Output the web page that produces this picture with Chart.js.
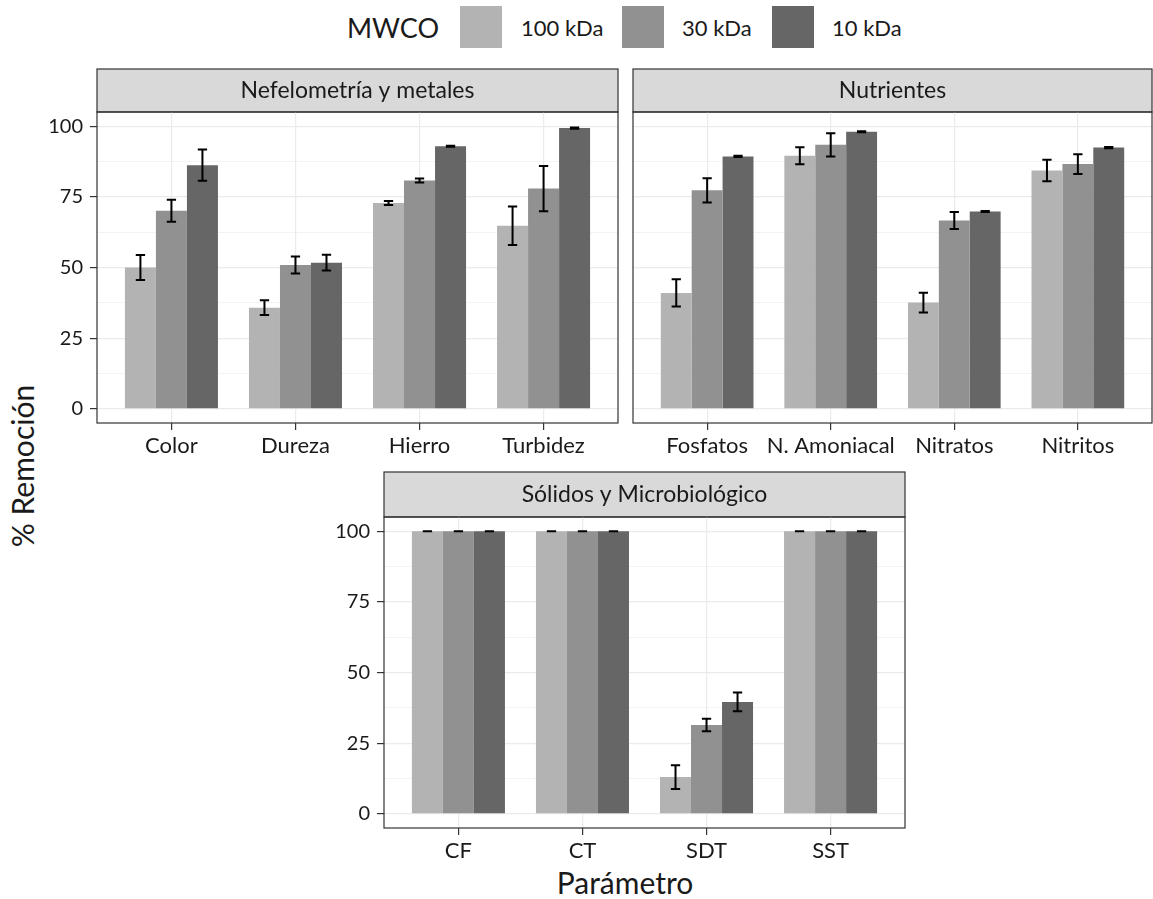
<!DOCTYPE html>
<html lang="es">
<head>
<meta charset="utf-8">
<title>% Remoción por parámetro</title>
<script src="https://cdn.jsdelivr.net/npm/chart.js@4.4.0/dist/chart.umd.min.js"></script>
<style>
  body { margin: 0; background: #fff; width: 1153px; height: 899px; position: relative; overflow: hidden; font-family: Lato, sans-serif; color: #1a1a1a; }
  canvas { position: absolute; }
  .txt { position: absolute; white-space: nowrap; line-height: 1; }
  .caja { position: absolute; width: 42px; height: 42px; top: 6px; }
</style>
</head>
<body>
<div class="txt" style="left:347px;top:14px;font-size:27px">MWCO</div>
<div class="caja" id="caja0" style="left:460px"></div>
<div class="txt" id="ley0" style="left:521px;top:17px;font-size:22px"></div>
<div class="caja" id="caja1" style="left:622px"></div>
<div class="txt" id="ley1" style="left:682px;top:17px;font-size:22px"></div>
<div class="caja" id="caja2" style="left:772px"></div>
<div class="txt" id="ley2" style="left:832px;top:17px;font-size:22px"></div>

<div class="txt" style="left:-78px;top:451px;font-size:30px;transform:rotate(-90deg);width:200px;text-align:center">% Remoción</div>
<div class="txt" style="left:525px;top:867px;font-size:30px;width:200px;text-align:center">Parámetro</div>

<canvas id="panel1" width="622" height="400" style="left:0;top:60px"></canvas>
<canvas id="panel2" width="524" height="400" style="left:629px;top:60px"></canvas>
<canvas id="panel3" width="624" height="410" style="left:284px;top:460px"></canvas>

<script>
// Series (MWCO) y colores
const series = ['100 kDa', '30 kDa', '10 kDa'];
const colores = ['#b3b3b3', '#919191', '#666666'];
const yTicks = [0, 25, 50, 75, 100];
const yMinor = [12.5, 37.5, 62.5, 87.5];

// Nefelometría y metales
const catNef = ['Color', 'Dureza', 'Hierro', 'Turbidez'];
const nef100 = [50.0, 35.8, 72.8, 64.8];
const nef30 = [70.1, 50.9, 80.8, 77.9];
const nef10 = [86.2, 51.7, 92.9, 99.3];
const nefErr100 = [4.4, 2.6, 0.7, 6.8];
const nefErr30 = [3.9, 3.0, 0.7, 8.0];
const nefErr10 = [5.5, 2.8, 0.2, 0.2];

// Nutrientes
const catNut = ['Fosfatos', 'N. Amoniacal', 'Nitratos', 'Nitritos'];
const nut100 = [41.0, 89.5, 37.6, 84.3];
const nut30 = [77.3, 93.4, 66.6, 86.6];
const nut10 = [89.3, 98.0, 69.8, 92.4];
const nutErr100 = [4.8, 3.0, 3.5, 3.8];
const nutErr30 = [4.3, 4.1, 3.0, 3.5];
const nutErr10 = [0.2, 0.2, 0.2, 0.2];

// Sólidos y Microbiológico
const catSol = ['CF', 'CT', 'SDT', 'SST'];
const sol100 = [100, 100, 13.0, 100];
const sol30 = [100, 100, 31.4, 100];
const sol10 = [100, 100, 39.6, 100];
const solErr100 = [0, 0, 4.2, 0];
const solErr30 = [0, 0, 2.2, 0];
const solErr10 = [0, 0, 3.3, 0];

// leyenda en HTML
series.forEach((s, i) => {
    document.getElementById('caja' + i).style.background = colores[i];
    document.getElementById('ley' + i).textContent = s;
});

const FUENTE = 'Lato';

// Franja gris con el título de la faceta + borde del panel
const pluginFaceta = {
    id: 'faceta',
    beforeDraw(chart, args, opts) {
        const a = chart.chartArea;
        const ctx = chart.ctx;
        ctx.save();
        ctx.fillStyle = '#d9d9d9';
        ctx.fillRect(a.left, a.top - opts.alto, a.right - a.left, opts.alto);
        ctx.strokeStyle = '#333333';
        ctx.lineWidth = 1.2;
        ctx.strokeRect(a.left, a.top - opts.alto, a.right - a.left, opts.alto);
        ctx.fillStyle = '#1a1a1a';
        ctx.font = '23px ' + FUENTE;
        ctx.textAlign = 'center';
        ctx.textBaseline = 'middle';
        ctx.fillText(opts.titulo, (a.left + a.right) / 2, a.top - opts.alto / 2);
        ctx.restore();
    },
    afterDraw(chart) {
        const a = chart.chartArea;
        const ctx = chart.ctx;
        ctx.save();
        ctx.strokeStyle = '#333333';
        ctx.lineWidth = 1.2;
        ctx.strokeRect(a.left, a.top, a.right - a.left, a.bottom - a.top);
        ctx.restore();
    }
};

// Barras de error
const pluginErrores = {
    id: 'errores',
    afterDatasetsDraw(chart) {
        const ctx = chart.ctx;
        const yScale = chart.scales.y;
        ctx.save();
        ctx.strokeStyle = '#000';
        ctx.lineWidth = 2;
        chart.data.datasets.forEach((ds, d) => {
            const meta = chart.getDatasetMeta(d);
            meta.data.forEach((bar, i) => {
                const v = ds.data[i].y;
                const e = ds.errores[i];
                const y1 = yScale.getPixelForValue(v + e);
                const y2 = yScale.getPixelForValue(v - e);
                const w = bar.width * 0.15;
                ctx.beginPath();
                ctx.moveTo(bar.x, y1);
                ctx.lineTo(bar.x, y2);
                ctx.moveTo(bar.x - w, y1);
                ctx.lineTo(bar.x + w, y1);
                ctx.moveTo(bar.x - w, y2);
                ctx.lineTo(bar.x + w, y2);
                ctx.stroke();
            });
        });
        ctx.restore();
    }
};

function crearPanel(id, titulo, cats, valores, errores, conEjeY, ancho, alto, pad) {
    const ctx = document.getElementById(id).getContext('2d');
    const datasets = valores.map((vals, s) => ({
        label: series[s],
        data: vals.map((v, i) => ({ x: i + 1, y: v })),
        errores: errores[s],
        backgroundColor: colores[s],
        borderWidth: 0,
        categoryPercentage: 0.75,
        barPercentage: 1.0
    }));

    return new Chart(ctx, {
        type: 'bar',
        data: { datasets: datasets },
        options: {
            responsive: false,
            animation: false,
            layout: { padding: pad },
            plugins: {
                legend: { display: false },
                tooltip: { enabled: false },
                faceta: { titulo: titulo, alto: pad.franja }
            },
            scales: {
                x: {
                    type: 'linear',
                    min: 0.4,
                    max: 4.6,
                    offset: false,
                    afterBuildTicks: s => { s.ticks = cats.map((c, i) => ({ value: i + 1 })); },
                    afterFit: s => { s.height = alto; },
                    border: { display: false },
                    grid: { offset: false, color: '#ebebeb', lineWidth: 1.2, tickColor: '#333333', tickLength: 7 },
                    ticks: {
                        autoSkip: false,
                        maxRotation: 0,
                        padding: 3,
                        color: '#1a1a1a',
                        font: { family: FUENTE, size: 22 },
                        callback: (v, i) => cats[i]
                    }
                },
                y: {
                    min: -5,
                    max: 105,
                    afterBuildTicks: s => {
                        s.ticks = yTicks.concat(yMinor).sort((a, b) => a - b).map(v => ({ value: v }));
                    },
                    afterFit: s => { s.width = ancho; },
                    border: { display: false },
                    grid: {
                        color: '#ebebeb',
                        lineWidth: c => yMinor.includes(c.tick.value) ? 0.6 : 1.2,
                        tickColor: c => yMinor.includes(c.tick.value) ? 'rgba(0,0,0,0)' : '#333333',
                        tickLength: 7,
                        drawTicks: conEjeY
                    },
                    ticks: {
                        display: conEjeY,
                        padding: 7,
                        color: '#1a1a1a',
                        font: { family: FUENTE, size: 20 },
                        callback: v => yTicks.includes(v) ? String(v) : ''
                    }
                }
            }
        },
        plugins: [pluginFaceta, pluginErrores]
    });
}

document.fonts.load('20px Lato').then(() => {
    crearPanel('panel1', 'Nefelometría y metales', catNef,
        [nef100, nef30, nef10], [nefErr100, nefErr30, nefErr10],
        true, 97, 37, { top: 52, right: 4, left: 0, bottom: 0, franja: 43 });
    crearPanel('panel2', 'Nutrientes', catNut,
        [nut100, nut30, nut10], [nutErr100, nutErr30, nutErr10],
        false, 4, 37, { top: 52, right: 1, left: 0, bottom: 0, franja: 43 });
    crearPanel('panel3', 'Sólidos y Microbiológico', catSol,
        [sol100, sol30, sol10], [solErr100, solErr30, solErr10],
        true, 100, 42, { top: 57, right: 3, left: 0, bottom: 0, franja: 45 });
});
</script>
</body>
</html>
